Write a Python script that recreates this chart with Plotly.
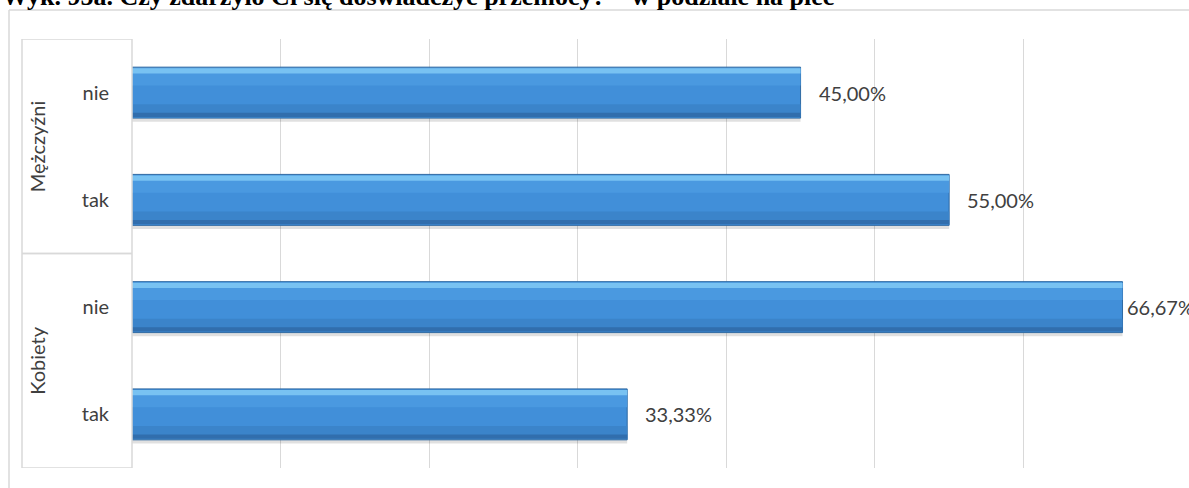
import plotly.graph_objects as go

groups = ["Mężczyźni", "Mężczyźni", "Kobiety", "Kobiety"]
answers = ["nie", "tak", "nie", "tak"]
values = [0.45, 0.55, 0.6667, 0.3333]
labels = ["45,00%", "55,00%", "66,67%", "33,33%"]
title_text = "Wyk. 95a. Czy zdarzyło Ci się doświadczyć przemocy? – w podziale na płeć"

pos = list(range(len(values)))
W = 0.475
font_fam = "Lato, 'Open Sans', sans-serif"
FS = 20
PW, PH = 1040, 429  # plot area size in px

fig = go.Figure()
# shadow
fig.add_trace(go.Bar(x=values, y=pos, orientation="h", width=W, offset=-W/2 + 0.035,
                     marker=dict(color="rgba(0,0,0,0.12)", line=dict(width=0)), hoverinfo="skip"))
# main body
fig.add_trace(go.Bar(x=values, y=pos, orientation="h", width=W, offset=-W/2,
                     marker=dict(color="#418fd9", line=dict(color="#2f6aa3", width=1))))
# upper lighter band
fig.add_trace(go.Bar(x=values, y=pos, orientation="h", width=0.16, offset=-W/2 + 0.01,
                     marker=dict(color="#4a99e0", line=dict(width=0)), hoverinfo="skip"))
# top highlight
fig.add_trace(go.Bar(x=values, y=pos, orientation="h", width=0.05, offset=-W/2 + 0.01,
                     marker=dict(color="#78c2f2", line=dict(width=0)), hoverinfo="skip"))
# lower darker band
fig.add_trace(go.Bar(x=values, y=pos, orientation="h", width=0.12, offset=W/2 - 0.13,
                     marker=dict(color="#3b84ca", line=dict(width=0)), hoverinfo="skip"))
# bottom shade
fig.add_trace(go.Bar(x=values, y=pos, orientation="h", width=0.04, offset=W/2 - 0.05,
                     marker=dict(color="#316ead", line=dict(width=0)), hoverinfo="skip"))

for p, v, t in zip(pos, values, labels):
    shift = 2 if v > 0.6 else 16
    fig.add_annotation(x=v, y=p, text=t, showarrow=False, xanchor="left", xshift=shift,
                       font=dict(family=font_fam, size=FS, color="#404040"))

# group labels and hierarchical boxes
grp_names = []
for g in groups:
    if g not in grp_names:
        grp_names.append(g)
lx0 = -110 / PW
for g in grp_names:
    idx = [i for i, gg in enumerate(groups) if gg == g]
    fig.add_annotation(x=-95 / PW, xref="paper", y=sum(idx) / len(idx), yref="y", text=g,
                       textangle=-90, showarrow=False, xanchor="center", yanchor="middle",
                       font=dict(family=font_fam, size=FS, color="#404040"))
    for yy in (min(idx) - 0.5, max(idx) + 0.5):
        fig.add_shape(type="line", xref="paper", yref="y", x0=lx0, x1=0, y0=yy, y1=yy,
                      line=dict(color="#d9d9d9", width=1.5))
fig.add_shape(type="line", xref="paper", yref="y", x0=lx0, x1=lx0, y0=-0.5, y1=len(values) - 0.5,
              line=dict(color="#d9d9d9", width=1.5))
fig.add_shape(type="line", xref="paper", yref="y", x0=0, x1=0, y0=-0.5, y1=len(values) - 0.5,
              line=dict(color="#d9d9d9", width=1.5))
# outer frame
fig.add_shape(type="line", xref="paper", yref="paper", x0=-123 / PW, x1=1.2, y0=458 / PH, y1=458 / PH,
              line=dict(color="#d9d9d9", width=1.5))
fig.add_shape(type="line", xref="paper", yref="paper", x0=-123 / PW, x1=-123 / PW, y0=-0.1, y1=458 / PH,
              line=dict(color="#d9d9d9", width=1.5))

# title (partially cut at the top, as in the reference)
fig.add_annotation(text="<b>" + title_text + "</b>", xref="paper", yref="paper",
                   x=-132 / PW, y=1 + 42 / PH, xanchor="left", yanchor="middle", showarrow=False,
                   font=dict(family="Liberation Serif, Times New Roman, serif", size=26, color="black"))

fig.update_layout(
    width=1189, height=488,
    margin=dict(l=132, r=17, t=39, b=20),
    barmode="overlay", showlegend=False,
    paper_bgcolor="white", plot_bgcolor="white",
    xaxis=dict(range=[0, 0.7], dtick=0.1, tick0=0, showticklabels=False, showgrid=True,
               gridcolor="#d9d9d9", gridwidth=1, zeroline=False, showline=False),
    yaxis=dict(range=[len(values) - 0.5, -0.5], tickvals=pos, ticktext=answers, showgrid=False,
               zeroline=False, showline=False, ticks="", ticklabelstandoff=22,
               tickfont=dict(family=font_fam, size=FS, color="#404040")),
)

fig.write_html("out.html", config={"displayModeBar": False},
               post_script="document.body.style.margin='0';")
